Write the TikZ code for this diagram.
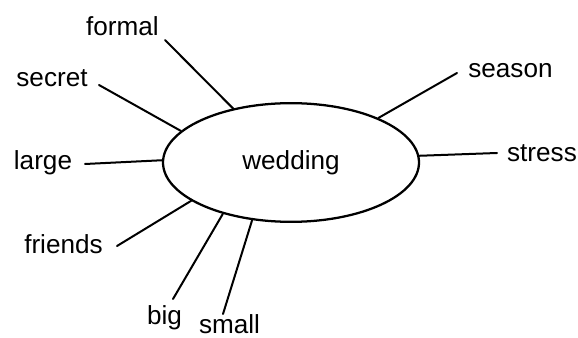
\documentclass[tikz,border=0pt]{standalone}
\usepackage{fontspec}
\setmainfont{Liberation Sans}
\usepackage{tkz-euclide}
\usetikzlibrary{shapes.geometric}

\tikzset{
	word/.style={anchor=base,inner sep=0pt,font=\fontsize{19.6}{23}\selectfont},
	hub/.style={draw,ellipse,line width=1.7pt,inner sep=0pt,
		minimum width=192pt,minimum height=89pt,font=\fontsize{19.6}{23}\selectfont}
}

\begin{document}
\begin{tikzpicture}[x=0.75pt,y=-0.75pt]
		\useasboundingbox (0,0) rectangle (578,338);
		%\draw[help lines] (0,0) grid[step=20] (578,338);
		\node[hub] (wedding) at (291,162.5) {wedding};
		
		\node[word] (formal)  at (122.5,36) {formal};
		\node[word] (secret)  at (52,87)    {secret};
		\node[word] (large)   at (43,170)   {large};
		\node[word] (friends) at (63.5,253) {friends};
		\node[word] (big)     at (164.5,325) {big};
		\node[word] (small)   at (229.5,333) {small};
		\node[word] (season)  at (510.5,78) {season};
		\node[word] (stress)  at (542,162)  {stress};
		
		% free ends of the spokes
		\tkzDefPoints{165/40/fo, 99/85/se, 85/164/la, 117/246/fr,
			173/299/bi, 223/314/sm, 457/73/sea, 497/153/st}
		% where they meet the ellipse
		\path (wedding.137) coordinate (Fo)
			(wedding.164) coordinate (Se)
			(wedding.179.5) coordinate (La)
			(wedding.201.5) coordinate (Fr)
			(wedding.217) coordinate (Bi)
			(wedding.236) coordinate (Sm)
			(wedding.27.6) coordinate (Sea)
			(wedding.3) coordinate (St);
		
		\tkzDrawSegments[line width=1.5pt](fo,Fo se,Se la,La fr,Fr)
		\tkzDrawSegments[line width=1.5pt](bi,Bi sm,Sm sea,Sea st,St)
	\end{tikzpicture}
\end{document}
